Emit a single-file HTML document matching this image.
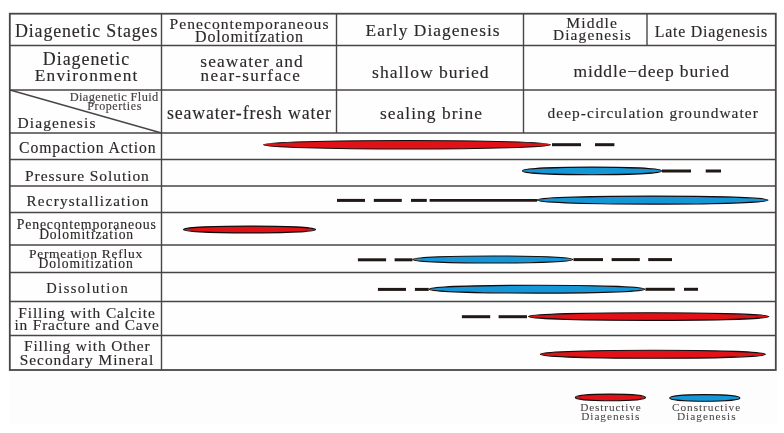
<!DOCTYPE html>
<html><head><meta charset="utf-8"><style>
html,body{margin:0;padding:0;background:#fff;width:784px;height:433px;overflow:hidden}
svg{display:block;will-change:transform}
text{font-family:"Liberation Serif",serif;}
</style></head><body>
<svg width="784" height="433" viewBox="0 0 784 433">
<rect x="9" y="371" width="768" height="53" fill="#fdfdfd"/>
<rect x="10" y="14" width="766" height="356" fill="#fefefe"/>
<line x1="9.5" y1="45.5" x2="776" y2="45.5" stroke="#4a4545" stroke-width="1.4"/>
<line x1="9.5" y1="90" x2="776" y2="90" stroke="#4a4545" stroke-width="1.4"/>
<line x1="9.5" y1="133" x2="776" y2="133" stroke="#4a4545" stroke-width="1.4"/>
<line x1="9.5" y1="159.5" x2="776" y2="159.5" stroke="#4a4545" stroke-width="1.4"/>
<line x1="9.5" y1="186" x2="776" y2="186" stroke="#4a4545" stroke-width="1.4"/>
<line x1="9.5" y1="212.5" x2="776" y2="212.5" stroke="#4a4545" stroke-width="1.4"/>
<line x1="9.5" y1="245" x2="776" y2="245" stroke="#4a4545" stroke-width="1.4"/>
<line x1="9.5" y1="272.5" x2="776" y2="272.5" stroke="#4a4545" stroke-width="1.4"/>
<line x1="9.5" y1="301.5" x2="776" y2="301.5" stroke="#4a4545" stroke-width="1.4"/>
<line x1="9.5" y1="335.5" x2="776" y2="335.5" stroke="#4a4545" stroke-width="1.4"/>
<rect x="9.8" y="13.7" width="766" height="356.3" fill="none" stroke="#4a4545" stroke-width="1.8"/>
<line x1="161.5" y1="13.5" x2="161.5" y2="370" stroke="#4a4545" stroke-width="1.4"/>
<line x1="336.5" y1="13.5" x2="336.5" y2="133" stroke="#4a4545" stroke-width="1.4"/>
<line x1="523.5" y1="13.5" x2="523.5" y2="133" stroke="#4a4545" stroke-width="1.4"/>
<line x1="647" y1="13.5" x2="647" y2="45.5" stroke="#4a4545" stroke-width="1.4"/>
<line x1="10" y1="90" x2="161.5" y2="133" stroke="#4a4545" stroke-width="1.3"/>
<line x1="552" y1="144.7" x2="581" y2="144.7" stroke="#201816" stroke-width="3"/>
<line x1="595" y1="144.7" x2="614.4" y2="144.7" stroke="#201816" stroke-width="3"/>
<ellipse cx="407.00" cy="144.80" rx="143.50" ry="4.25" fill="#e01218" stroke="#140c0c" stroke-width="1.1"/>
<line x1="662" y1="171" x2="691" y2="171" stroke="#201816" stroke-width="3"/>
<line x1="705.7" y1="171" x2="721" y2="171" stroke="#201816" stroke-width="3"/>
<ellipse cx="592.00" cy="170.90" rx="69.50" ry="3.80" fill="#1596d6" stroke="#140c0c" stroke-width="1.1"/>
<line x1="337" y1="200.4" x2="365" y2="200.4" stroke="#201816" stroke-width="3"/>
<line x1="373.8" y1="200.4" x2="401.8" y2="200.4" stroke="#201816" stroke-width="3"/>
<line x1="411" y1="200.4" x2="426.8" y2="200.4" stroke="#201816" stroke-width="3"/>
<line x1="429.6" y1="200.4" x2="537" y2="200.4" stroke="#201816" stroke-width="2.6"/>
<ellipse cx="652.55" cy="200.10" rx="115.55" ry="4.00" fill="#1596d6" stroke="#140c0c" stroke-width="1.1"/>
<ellipse cx="249.50" cy="229.50" rx="66.00" ry="3.40" fill="#e01218" stroke="#140c0c" stroke-width="1.1"/>
<line x1="357.9" y1="259.8" x2="386.1" y2="259.8" stroke="#201816" stroke-width="3"/>
<line x1="394.6" y1="259.8" x2="412.5" y2="259.8" stroke="#201816" stroke-width="3"/>
<line x1="573.5" y1="259.6" x2="603" y2="259.6" stroke="#201816" stroke-width="3"/>
<line x1="611.6" y1="259.6" x2="639.8" y2="259.6" stroke="#201816" stroke-width="3"/>
<line x1="648.2" y1="259.6" x2="672" y2="259.6" stroke="#201816" stroke-width="3"/>
<ellipse cx="492.85" cy="259.50" rx="79.85" ry="3.50" fill="#1596d6" stroke="#140c0c" stroke-width="1.1"/>
<line x1="377.9" y1="289.4" x2="406" y2="289.4" stroke="#201816" stroke-width="3"/>
<line x1="414.9" y1="289.4" x2="428.7" y2="289.4" stroke="#201816" stroke-width="3"/>
<line x1="645.5" y1="289.3" x2="674.8" y2="289.3" stroke="#201816" stroke-width="3"/>
<line x1="684" y1="289.3" x2="698" y2="289.3" stroke="#201816" stroke-width="3"/>
<ellipse cx="537.10" cy="289.20" rx="107.90" ry="3.90" fill="#1596d6" stroke="#140c0c" stroke-width="1.1"/>
<line x1="461.9" y1="316.7" x2="490.2" y2="316.7" stroke="#201816" stroke-width="3"/>
<line x1="498.6" y1="316.7" x2="527" y2="316.7" stroke="#201816" stroke-width="3"/>
<ellipse cx="648.75" cy="316.60" rx="120.25" ry="3.80" fill="#e01218" stroke="#140c0c" stroke-width="1.1"/>
<ellipse cx="652.85" cy="354.30" rx="112.55" ry="4.00" fill="#e01218" stroke="#140c0c" stroke-width="1.1"/>
<ellipse cx="610.40" cy="397.40" rx="35.10" ry="3.30" fill="#e01218" stroke="#140c0c" stroke-width="1.1"/>
<ellipse cx="704.80" cy="397.90" rx="35.10" ry="3.30" fill="#1596d6" stroke="#140c0c" stroke-width="1.1"/>
<text transform="translate(15.01 36.70) scale(1.0 1)" font-size="17.90" letter-spacing="0.855" fill="#2e2929" stroke="#2e2929" stroke-width="0.15">Diagenetic Stages</text>
<text transform="translate(169.47 29.00) scale(1.0 1)" font-size="15.60" letter-spacing="1.040" fill="#2e2929" stroke="#2e2929" stroke-width="0.15">Penecontemporaneous</text>
<text transform="translate(194.96 41.50) scale(1.0 1)" font-size="16.00" letter-spacing="0.862" fill="#2e2929" stroke="#2e2929" stroke-width="0.15">Dolomitization</text>
<text transform="translate(365.52 36.00) scale(1.0 1)" font-size="17.40" letter-spacing="1.052" fill="#2e2929" stroke="#2e2929" stroke-width="0.15">Early Diagenesis</text>
<text transform="translate(566.27 27.60) scale(1.0 1)" font-size="15.60" letter-spacing="1.138" fill="#2e2929" stroke="#2e2929" stroke-width="0.15">Middle</text>
<text transform="translate(552.88 40.00) scale(1.0 1)" font-size="15.40" letter-spacing="1.155" fill="#2e2929" stroke="#2e2929" stroke-width="0.15">Diagenesis</text>
<text transform="translate(654.86 36.50) scale(1.0 1)" font-size="15.90" letter-spacing="0.750" fill="#2e2929" stroke="#2e2929" stroke-width="0.15">Late Diagenesis</text>
<text transform="translate(42.81 64.80) scale(1.0 1)" font-size="17.90" letter-spacing="0.975" fill="#2e2929" stroke="#2e2929" stroke-width="0.15">Diagenetic</text>
<text transform="translate(34.72 80.50) scale(1.0 1)" font-size="17.30" letter-spacing="1.246" fill="#2e2929" stroke="#2e2929" stroke-width="0.15">Environment</text>
<text transform="translate(200.30 66.50) scale(1.0 1)" font-size="17.40" letter-spacing="1.102" fill="#2e2929" stroke="#2e2929" stroke-width="0.15">seawater and</text>
<text transform="translate(200.62 80.60) scale(1.0 1)" font-size="17.00" letter-spacing="1.418" fill="#2e2929" stroke="#2e2929" stroke-width="0.15">near-surface</text>
<text transform="translate(372.10 77.50) scale(1.0 1)" font-size="17.60" letter-spacing="0.960" fill="#2e2929" stroke="#2e2929" stroke-width="0.15">shallow buried</text>
<text transform="translate(573.45 76.50) scale(1.0 1)" font-size="17.50" letter-spacing="0.877" fill="#2e2929" stroke="#2e2929" stroke-width="0.15">middle−deep buried</text>
<text transform="translate(69.66 100.60) scale(1.0 1)" font-size="12.40" letter-spacing="0.379" fill="#454040" stroke="#454040" stroke-width="0.15">Diagenetic Fluid</text>
<text transform="translate(87.27 109.60) scale(1.0 1)" font-size="12.00" letter-spacing="0.599" fill="#454040" stroke="#454040" stroke-width="0.15">Properties</text>
<text transform="translate(17.47 127.80) scale(1.0 1)" font-size="15.50" letter-spacing="1.107" fill="#2e2929" stroke="#2e2929" stroke-width="0.15">Diagenesis</text>
<text transform="translate(166.89 119.00) scale(1.0 1)" font-size="17.80" letter-spacing="0.887" fill="#2e2929" stroke="#2e2929" stroke-width="0.15">seawater-fresh water</text>
<text transform="translate(380.00 118.60) scale(1.0 1)" font-size="17.40" letter-spacing="1.051" fill="#2e2929" stroke="#2e2929" stroke-width="0.15">sealing brine</text>
<text transform="translate(547.56 118.30) scale(1.0 1)" font-size="15.40" letter-spacing="1.061" fill="#2e2929" stroke="#2e2929" stroke-width="0.15">deep-circulation groundwater</text>
<text transform="translate(19.07 153.00) scale(1.0 1)" font-size="15.70" letter-spacing="0.877" fill="#2e2929" stroke="#2e2929" stroke-width="0.15">Compaction Action</text>
<text transform="translate(25.07 180.50) scale(1.0 1)" font-size="15.50" letter-spacing="0.927" fill="#2e2929" stroke="#2e2929" stroke-width="0.15">Pressure Solution</text>
<text transform="translate(26.58 206.30) scale(1.0 1)" font-size="15.10" letter-spacing="1.209" fill="#2e2929" stroke="#2e2929" stroke-width="0.15">Recrystallization</text>
<text transform="translate(16.72 228.90) scale(1.0 1)" font-size="13.80" letter-spacing="0.828" fill="#2e2929" stroke="#2e2929" stroke-width="0.15">Penecontemporaneous</text>
<text transform="translate(39.13 239.00) scale(1.0 1)" font-size="13.60" letter-spacing="0.902" fill="#2e2929" stroke="#2e2929" stroke-width="0.15">Dolomitization</text>
<text transform="translate(28.93 258.10) scale(1.0 1)" font-size="13.50" letter-spacing="0.732" fill="#2e2929" stroke="#2e2929" stroke-width="0.15">Permeation Reflux</text>
<text transform="translate(38.53 268.30) scale(1.0 1)" font-size="13.60" letter-spacing="0.918" fill="#2e2929" stroke="#2e2929" stroke-width="0.15">Dolomitization</text>
<text transform="translate(46.20 293.30) scale(1.0 1)" font-size="14.50" letter-spacing="1.464" fill="#2e2929" stroke="#2e2929" stroke-width="0.15">Dissolution</text>
<text transform="translate(18.28 317.50) scale(1.0 1)" font-size="15.40" letter-spacing="0.887" fill="#2e2929" stroke="#2e2929" stroke-width="0.15">Filling with Calcite</text>
<text transform="translate(14.49 329.70) scale(1.0 1)" font-size="15.40" letter-spacing="0.821" fill="#2e2929" stroke="#2e2929" stroke-width="0.15">in Fracture and Cave</text>
<text transform="translate(24.08 351.40) scale(1.0 1)" font-size="15.40" letter-spacing="0.848" fill="#2e2929" stroke="#2e2929" stroke-width="0.15">Filling with Other</text>
<text transform="translate(19.70 365.00) scale(1.0 1)" font-size="15.40" letter-spacing="0.999" fill="#2e2929" stroke="#2e2929" stroke-width="0.15">Secondary Mineral</text>
<text transform="translate(580.29 410.80) scale(1.0 1)" font-size="11.30" letter-spacing="0.831" fill="#4a4646" stroke="#4a4646" stroke-width="0.05">Destructive</text>
<text transform="translate(581.19 420.00) scale(1.0 1)" font-size="11.30" letter-spacing="0.947" fill="#4a4646" stroke="#4a4646" stroke-width="0.05">Diagenesis</text>
<text transform="translate(671.95 410.80) scale(1.0 1)" font-size="11.30" letter-spacing="0.952" fill="#4a4646" stroke="#4a4646" stroke-width="0.05">Constructive</text>
<text transform="translate(676.89 420.00) scale(1.0 1)" font-size="11.30" letter-spacing="1.014" fill="#4a4646" stroke="#4a4646" stroke-width="0.05">Diagenesis</text>
</svg>
</body></html>
